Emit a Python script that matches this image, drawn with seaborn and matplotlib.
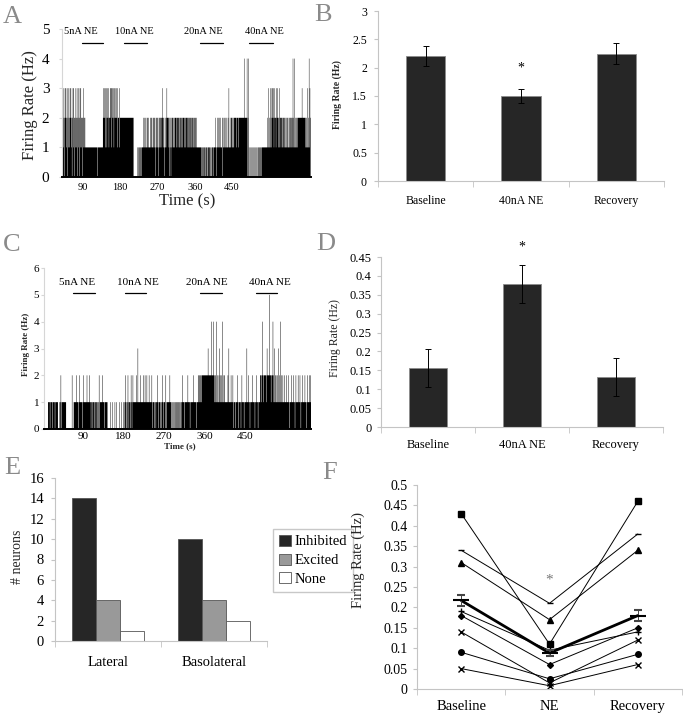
import numpy as np
import pandas as pd
import matplotlib
matplotlib.use("Agg")
from matplotlib import pyplot as plt
from matplotlib.ticker import FuncFormatter
from matplotlib.patches import Patch
import seaborn as sns

W, H = 683, 720

# ---- panel A: spike count per 1 s bin (one digit per bin), first bin at t = 40 s
a_start = 40
a_rate = (
    "3213203231" "2302132132" "3120231302" "2131230213" "2031321202" "1321211111"
    "1111111111" "1111111111" "1111011111" "1111111123" "2321323132" "2312232313"
    "2323132322" "3213222132" "2222222222" "2222222222" "2222222222" "2200000000"
    "0101010101" "1011112121" "1211212121" "1121212112" "1212102121" "2102121222"
    "1232121012" "1232222102" "1202122121" "2122212221" "2212122122" "1222212122"
    "2122121222" "1212212121" "2121211111" "1111110101" "1011010110" "1011011010"
    "1011101112" "1101211212" "1121112021" "1212111211" "2131121122" "1212122222"
    "2122212222" "2222222224" "2222224024" "0100101001" "0010100101" "0010110101"
    "1011111111" "1111112131" "2131213232" "3123221322" "3212312212" "2121222121"
    "1212121121" "2121212412" "1412121212" "2222222223" "2222222121" "2131214132"
)
a_xticks = [90, 180, 270, 360, 450]
a_ne_labels = ["5nA NE", "10nA NE", "20nA NE", "40nA NE"]
a_ne_text_t = [85, 215, 380, 529]
a_ne_on = [87, 189, 372, 491]
a_ne_off = [138, 244, 428, 549]

# ---- panel C: spike count per 1 s bin, first bin at t = 0 s
c_start = 0
c_rate = (
    "0000000000" "0011110111" "1101111011" "1111000101" "2011111111" "1100000000"
    "0000020001" "1111121110" "1211111101" "2111111121" "1112111011" "1011101101"
    "1011020111" "1121111011" "1110100000" "1000100000" "1001000000" "1000010001"
    "0102101012" "1011012101" "2111111121" "1311111211" "1112111211" "1211112111"
    "1121011101" "1011211011" "1011012101" "1102101111" "1121101010" "1010101010"
    "1010101011" "2111011111" "1121111011" "1111121111" "1011121212" "1212222222"
    "2222222322" "2222422224" "2121214121" "1231211214" "1121211111" "1213111121"
    "1121011101" "1121101111" "0121111011" "1113111211" "0111121111" "1011121101"
    "1112212242" "1222221232" "2225222122" "2421132121" "1213121141" "2112111211"
    "1211112101" "1121111211" "0121111211" "1210111211" "1121110121" "112121"
)
c_xticks = [90, 180, 270, 360, 450]
c_ne_labels = ["5nA NE", "10nA NE", "20nA NE", "40nA NE"]
c_ne_text_t = [77, 211, 365, 505]
c_ne_on = [67, 183, 350, 474]
c_ne_off = [116, 230, 399, 521]

# ---- panels B and D: mean firing rate +/- SEM
bd_labels = ["Baseline", "40nA NE", "Recovery"]
b_means = [2.21, 1.50, 2.25]
b_sem = [0.18, 0.12, 0.18]
d_means = [0.157, 0.378, 0.133]
d_sem = [0.050, 0.050, 0.050]

# ---- panel E: response counts
e_regions = ["Lateral", "Basolateral"]
e_responses = ["Inhibited", "Excited", "None"]
e_lateral = [14, 4, 1]
e_basolateral = [10, 4, 2]
e_colors = ["#262626", "#999999", "#ffffff"]

# ---- panel F: individual neurons and mean
f_labels = ["Baseline", "NE", "Recovery"]
f_square = [0.43, 0.11, 0.46]
f_dash = [0.34, 0.21, 0.38]
f_triangle = [0.31, 0.17, 0.34]
f_plus = [0.19, 0.095, 0.14]
f_diamond = [0.18, 0.06, 0.15]
f_cross1 = [0.14, 0.015, 0.12]
f_circle = [0.09, 0.025, 0.085]
f_cross2 = [0.05, 0.008, 0.06]
f_mean = [0.217, 0.088, 0.18]
f_mean_err = [0.014, 0.008, 0.013]

sns.set_style("white")
plt.rcParams["font.family"] = ["Liberation Serif", "DejaVu Serif"]
plt.rcParams["text.color"] = "black"
plt.rcParams["xtick.color"] = "black"
plt.rcParams["ytick.color"] = "black"

fig = plt.figure(figsize=(W / 100, H / 100), dpi=100)
dark = "#262626"
light = "#c4c4c4"
letter_gray = "#8a8a8a"
fmt_g = FuncFormatter(lambda v, p: f"{v:g}")


def add_axes(left, top, right, bottom):
    return fig.add_axes([left / W, 1 - bottom / H, (right - left) / W, (bottom - top) / H])


def to_axes(ax, px, py):
    pos = ax.get_position()
    return (px / W - pos.x0) / pos.width, (1 - py / H - pos.y0) / pos.height


def put_ylabel(ax, text, px, py, **kw):
    ax.set_ylabel(text, **kw)
    ax.yaxis.set_label_coords(*to_axes(ax, px, py))
    ax.yaxis.label.set_va("center")


def put_xlabel(ax, text, px, py, **kw):
    ax.set_xlabel(text, **kw)
    ax.xaxis.set_label_coords(*to_axes(ax, px, py))
    ax.xaxis.label.set_va("center")


def excel_axes(ax, n_cat, ysize, xsize, ypad, xpad):
    for s in ["top", "right"]:
        ax.spines[s].set_visible(False)
    ax.spines["left"].set_color(light)
    ax.spines["bottom"].set_color(light)
    ax.set_xlim(-0.5, n_cat - 0.5)
    ax.set_xticks(np.arange(-0.5, n_cat), minor=True)
    ax.tick_params(axis="x", which="major", length=0, labelsize=xsize, pad=xpad)
    ax.tick_params(axis="x", which="minor", length=4, color=light, direction="out", bottom=True)
    ax.tick_params(axis="y", length=3, color=light, direction="out", left=True,
                   labelsize=ysize, pad=ypad)
    ax.yaxis.set_major_formatter(fmt_g)


def raster(ax, start, rate, ymax, xlim, xticks, ne, ytsize, xtsize, ypad, xpad, txt_y, line_y, txt_size):
    vals = np.array([int(ch) for ch in rate])
    edges = start + np.arange(len(vals) + 1)
    # one filled outline: runs of bins merge into solid black, lone bins become thin lines
    ax.stairs(vals, edges, fill=True, color="black", linewidth=0)
    ax.set_xlim(*xlim)
    ax.set_ylim(0, ymax)
    ax.set_yticks(range(ymax + 1))
    ax.set_xticks(xticks)
    for s in ["top", "right"]:
        ax.spines[s].set_visible(False)
    ax.spines["left"].set_color("#d6d6d6")
    ax.spines["bottom"].set_color("black")
    ax.spines["bottom"].set_linewidth(1.4)
    ax.tick_params(axis="y", length=2, color="#d6d6d6", left=True, labelsize=ytsize, pad=ypad)
    ax.tick_params(axis="x", length=0, labelsize=xtsize, pad=xpad)
    labels, tt, on, off = ne
    for lab, tc, t0, t1 in zip(labels, tt, on, off):
        ax.text(tc, txt_y, lab, ha="center", va="center", fontsize=txt_size, clip_on=False)
        ax.plot([t0, t1], [line_y, line_y], color="black", lw=0.9, clip_on=False)


# ---------------- A
ax_a = add_axes(62, 29, 311, 177)
raster(ax_a, a_start, a_rate, 5, (39, 641), a_xticks,
       (a_ne_labels, a_ne_text_t, a_ne_on, a_ne_off), 11, 7.5, 7, 4, 4.93, 4.53, 7.5)
put_ylabel(ax_a, "Firing Rate (Hz)", 30, 105, fontsize=12)
put_xlabel(ax_a, "Time (s)", 187, 201, fontsize=12)

# ---------------- C
ax_c = add_axes(44, 268, 311, 429)
raster(ax_c, c_start, c_rate, 6, (3, 596), c_xticks,
       (c_ne_labels, c_ne_text_t, c_ne_on, c_ne_off), 8, 8, 1.5, 2.5, 5.45, 5.07, 8)
put_ylabel(ax_c, "Firing Rate (Hz)", 26, 344, fontsize=6.5, fontweight="bold")
put_xlabel(ax_c, "Time (s)", 180, 446, fontsize=6.5, fontweight="bold")

# ---------------- B
ax_b = add_axes(378, 11, 664, 181)
b_df = pd.DataFrame({"condition": bd_labels, "rate": b_means})
sns.barplot(data=b_df, x="condition", y="rate", color=dark, saturation=1, width=0.41,
            errorbar=None, edgecolor="#8c8c8c", linewidth=0.6, ax=ax_b)
ax_b.errorbar(np.arange(len(b_means)), b_means, yerr=b_sem, fmt="none", ecolor="black",
              elinewidth=0.7, capsize=2, capthick=0.7)
ax_b.set_ylim(0, 3)
ax_b.set_yticks(np.arange(0, 3.01, 0.5))
excel_axes(ax_b, 3, 8.5, 8.5, 5, 10)
ax_b.text(1, 2.0, "*", ha="center", va="center", fontsize=10)
put_ylabel(ax_b, "Firing Rate (Hz)", 337, 95, fontsize=7, fontweight="bold")
ax_b.set_xlabel("")

# ---------------- D
ax_d = add_axes(381, 257, 663, 427)
d_df = pd.DataFrame({"condition": bd_labels, "rate": d_means})
sns.barplot(data=d_df, x="condition", y="rate", color=dark, saturation=1, width=0.41,
            errorbar=None, edgecolor="#8c8c8c", linewidth=0.6, ax=ax_d)
ax_d.errorbar(np.arange(len(d_means)), d_means, yerr=d_sem, fmt="none", ecolor="black",
              elinewidth=0.7, capsize=2, capthick=0.7)
ax_d.set_ylim(0, 0.45)
ax_d.set_yticks(np.arange(0, 0.451, 0.05))
excel_axes(ax_d, 3, 9, 9, 4, 8.5)
ax_d.text(1, 0.476, "*", ha="center", va="center", fontsize=10, clip_on=False)
put_ylabel(ax_d, "Firing Rate (Hz)", 335, 338, fontsize=8.5)
ax_d.set_xlabel("")

# ---------------- E
ax_e = add_axes(55, 478, 267, 641)
e_df = pd.DataFrame({
    "region": np.repeat(e_regions, len(e_responses)),
    "response": e_responses * len(e_regions),
    "count": e_lateral + e_basolateral,
})
sns.barplot(data=e_df, x="region", y="count", hue="response", palette=e_colors, saturation=1,
            width=0.67, errorbar=None, edgecolor="#555555", linewidth=0.6, legend=False, ax=ax_e)
ax_e.set_ylim(0, 16)
ax_e.set_yticks(range(0, 17, 2))
excel_axes(ax_e, 2, 10.5, 10.5, 5, 11)
put_ylabel(ax_e, "# neurons", 17.5, 557, fontsize=10)
ax_e.set_xlabel("")
handles = [Patch(facecolor=c, edgecolor="#555555", linewidth=0.6) for c in e_colors]
ax_e.legend(handles, e_responses, loc="upper left", bbox_to_anchor=(273 / W, 1 - 529 / H),
            bbox_transform=fig.transFigure, fontsize=10.5, frameon=True, fancybox=False,
            edgecolor="#c8c8c8", framealpha=1, handlelength=0.8, handleheight=0.8,
            handletextpad=0.3, labelspacing=0.35, borderpad=0.4, borderaxespad=0)

# ---------------- F
ax_f = add_axes(417, 485, 682, 689)
f_pos = np.arange(len(f_labels))
neurons = [
    (f_square, "s", 4), (f_dash, "_", 5), (f_triangle, "^", 4), (f_plus, "+", 5),
    (f_diamond, "D", 3), (f_cross1, "x", 4), (f_circle, "o", 4), (f_cross2, "x", 4),
]
for vals, m, ms in neurons:
    sns.lineplot(x=f_pos, y=vals, marker=m, markersize=ms, color="black", linewidth=0.7,
                 markeredgecolor="black", markeredgewidth=1.0, ax=ax_f)
sns.lineplot(x=f_pos, y=f_mean, color="black", linewidth=2, ax=ax_f)
ax_f.errorbar(f_pos, f_mean, yerr=f_mean_err, fmt="_", ms=12, mew=1.5, color="black",
              ecolor="#444444", elinewidth=0.7, capsize=3, capthick=0.7)
ax_f.set_ylim(0, 0.5)
ax_f.set_yticks(np.arange(0, 0.501, 0.05))
ax_f.set_xticks(f_pos)
ax_f.set_xticklabels(f_labels)
excel_axes(ax_f, 3, 10, 10.5, 4, 8)
ax_f.text(1, 0.266, "*", ha="center", va="center", fontsize=11, color="#777777")
put_ylabel(ax_f, "Firing Rate (Hz)", 358, 560, fontsize=10.5)
ax_f.set_xlabel("")

# ---------------- panel letters
for letter, px, py in [("A", 12, 17), ("B", 323, 15), ("C", 12, 245),
                       ("D", 326, 244), ("E", 12, 468), ("F", 330, 473)]:
    fig.text(px / W, 1 - py / H, letter, ha="center", va="center", fontsize=19, color=letter_gray)

fig.savefig("out.png", dpi=100)
